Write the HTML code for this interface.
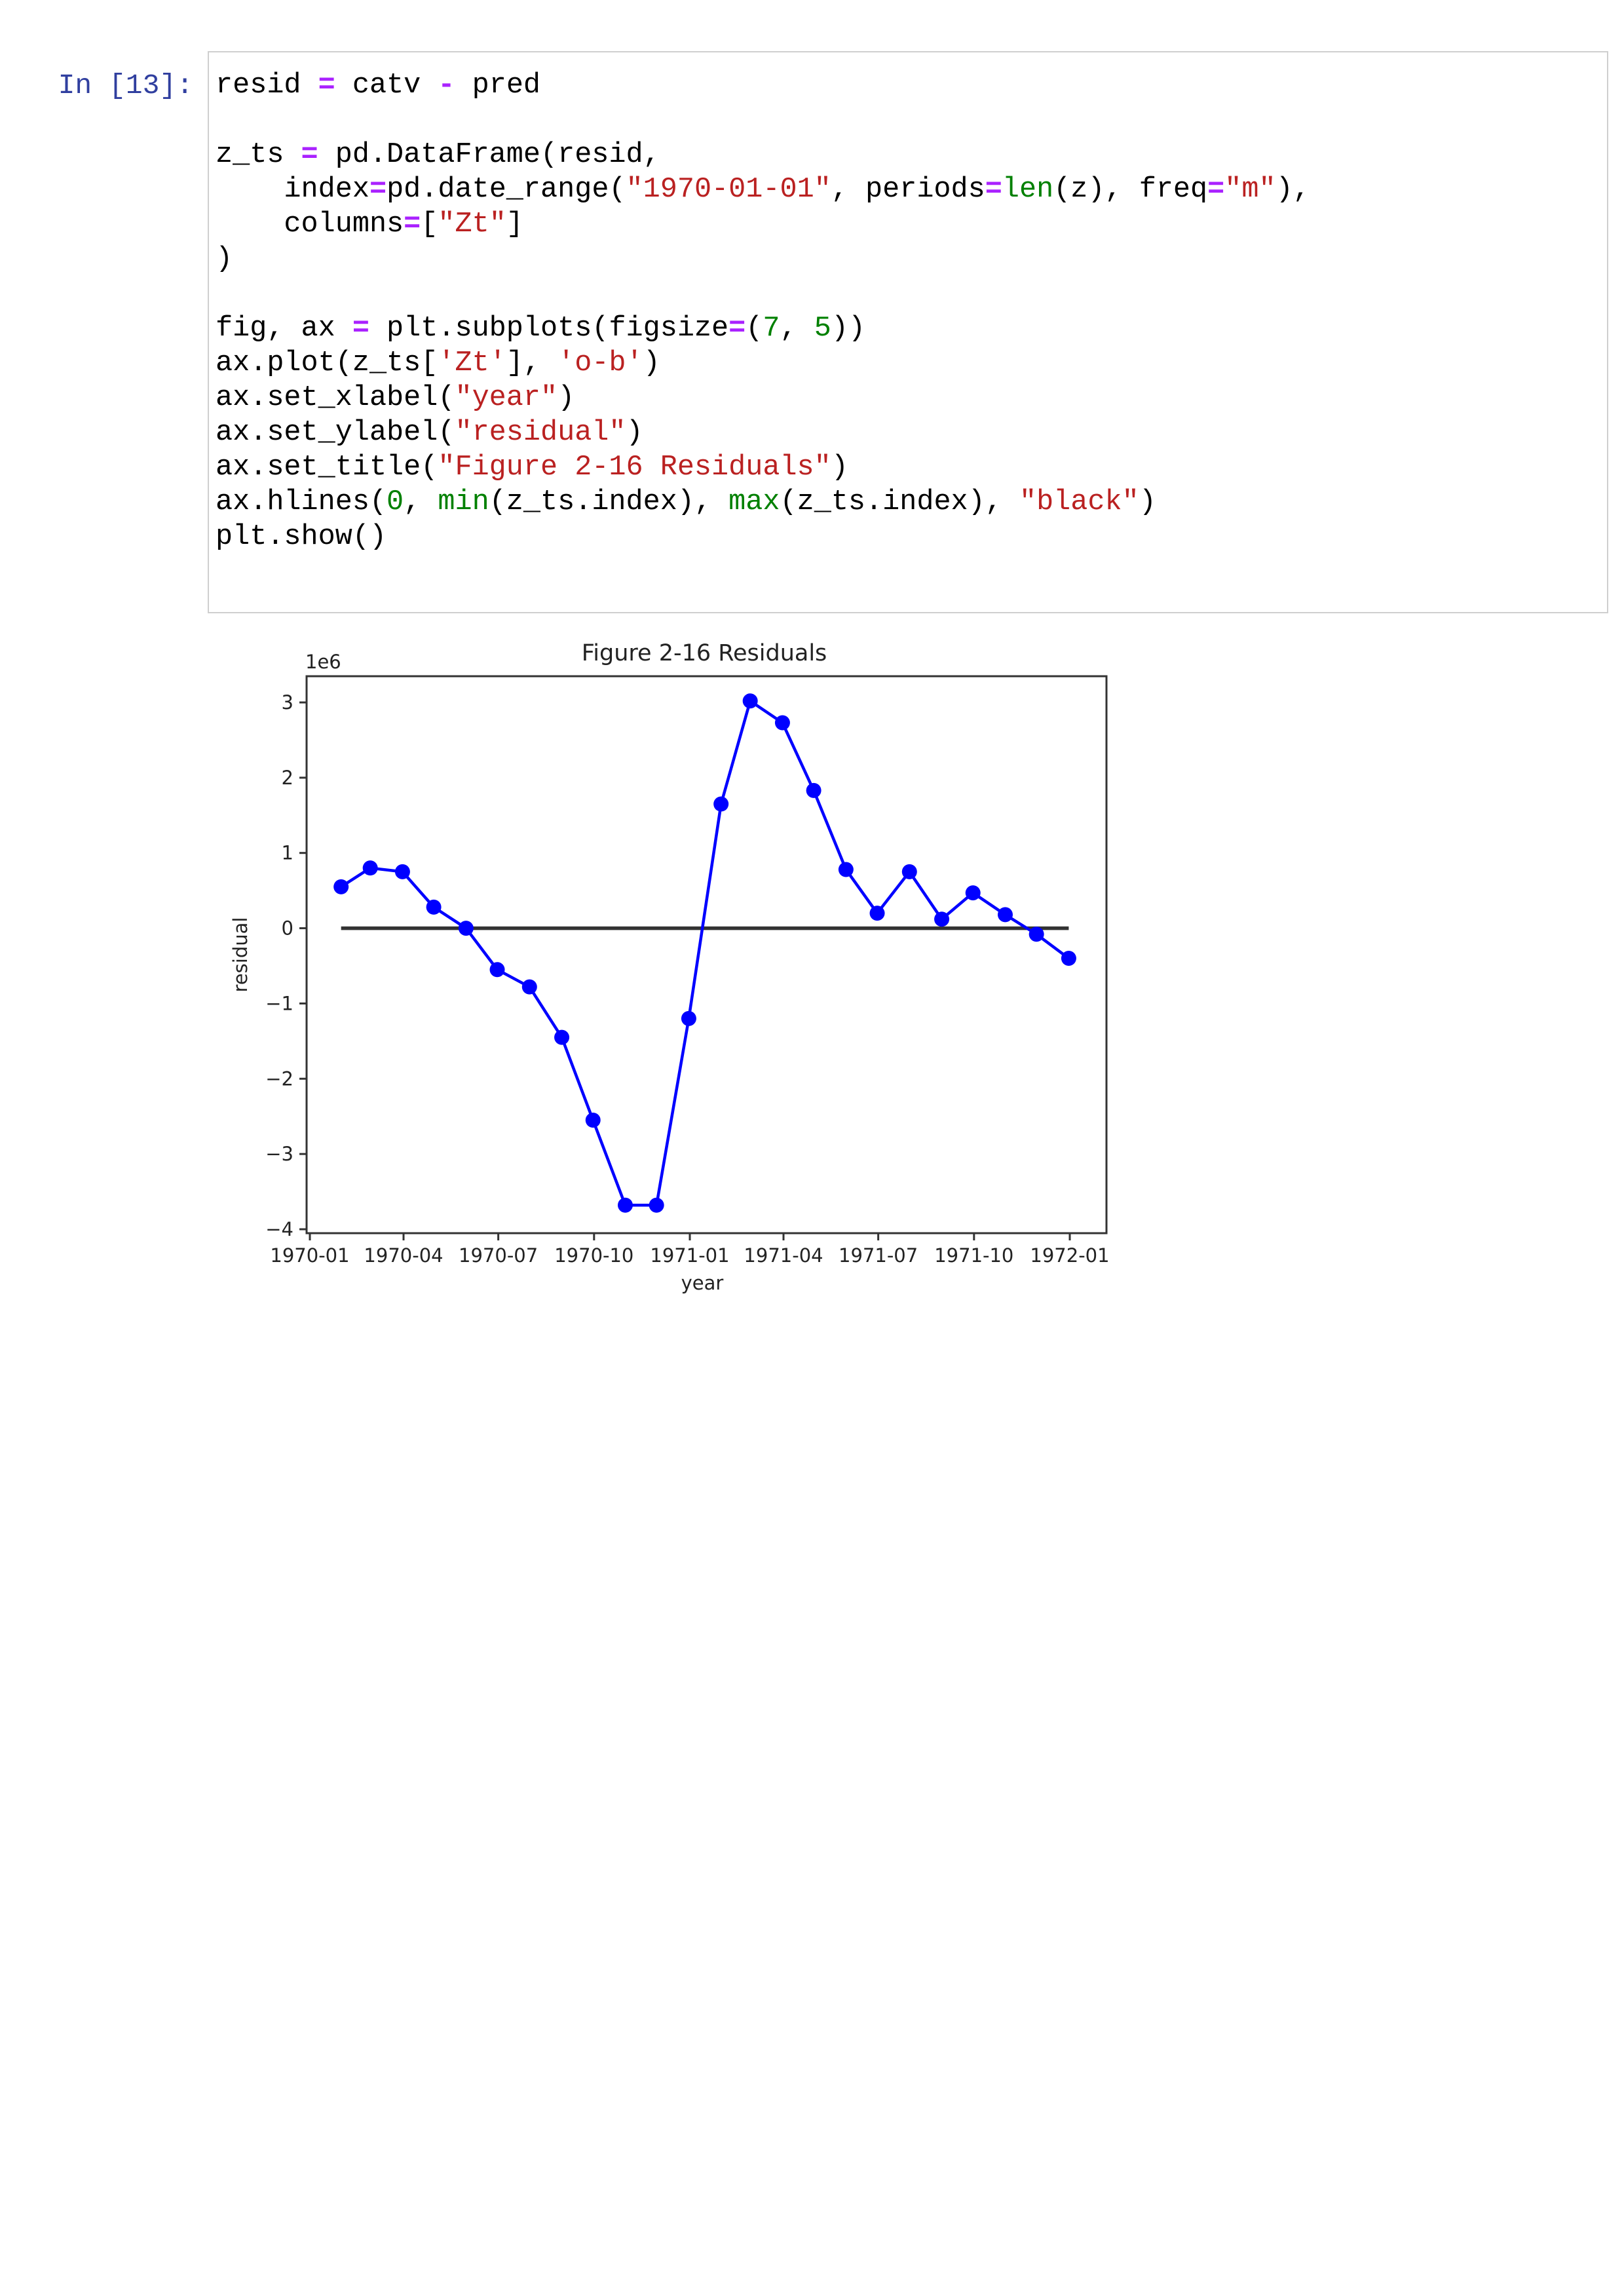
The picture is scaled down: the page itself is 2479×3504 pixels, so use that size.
<!DOCTYPE html>
<html><head><meta charset="utf-8"><style>
html,body{margin:0;padding:0;background:#fff;}
body{width:2479px;height:3504px;position:relative;overflow:hidden;font-family:"Liberation Mono",monospace;}
.prompt{position:absolute;left:60px;top:104px;width:235px;text-align:right;color:#303F9F;font-size:43px;line-height:53px;white-space:pre;}
.cell{position:absolute;left:317px;top:78px;width:2138px;height:858px;border:2px solid #cfcfcf;background:#fff;box-sizing:border-box;}
.ln{position:absolute;left:329px;font-size:43.5px;line-height:53px;white-space:pre;color:#000;}
.o{color:#AA22FF;font-weight:bold}.s{color:#BA2121}.b{color:#008000}.n{color:#008000}
svg{position:absolute;left:0;top:0;}
</style></head><body>
<div class="prompt">In [13]:</div>
<div class="cell"></div>
<div class="ln" style="top:104px">resid <span class="o">=</span> catv <span class="o">-</span> pred</div>
<div class="ln" style="top:210px">z_ts <span class="o">=</span> pd.DataFrame(resid,</div>
<div class="ln" style="top:263px">    index<span class="o">=</span>pd.date_range(<span class="s">"1970-01-01"</span>, periods<span class="o">=</span><span class="b">len</span>(z), freq<span class="o">=</span><span class="s">"m"</span>),</div>
<div class="ln" style="top:316px">    columns<span class="o">=</span>[<span class="s">"Zt"</span>]</div>
<div class="ln" style="top:369px">)</div>
<div class="ln" style="top:475px">fig, ax <span class="o">=</span> plt.subplots(figsize<span class="o">=</span>(<span class="n">7</span>, <span class="n">5</span>))</div>
<div class="ln" style="top:528px">ax.plot(z_ts[<span class="s">'Zt'</span>], <span class="s">'o-b'</span>)</div>
<div class="ln" style="top:581px">ax.set_xlabel(<span class="s">"year"</span>)</div>
<div class="ln" style="top:634px">ax.set_ylabel(<span class="s">"residual"</span>)</div>
<div class="ln" style="top:687px">ax.set_title(<span class="s">"Figure 2-16 Residuals"</span>)</div>
<div class="ln" style="top:740px">ax.hlines(<span class="n">0</span>, <span class="b">min</span>(z_ts.index), <span class="b">max</span>(z_ts.index), <span class="s">"black"</span>)</div>
<div class="ln" style="top:793px">plt.show()</div>

<svg id="chart" width="2479" height="3504" font-family="'DejaVu Sans','Liberation Sans',sans-serif"></svg>
<script>
const dates = ["1970-01-31","1970-02-28","1970-03-31","1970-04-30","1970-05-31","1970-06-30","1970-07-31","1970-08-31","1970-09-30","1970-10-31","1970-11-30","1970-12-31","1971-01-31","1971-02-28","1971-03-31","1971-04-30","1971-05-31","1971-06-30","1971-07-31","1971-08-31","1971-09-30","1971-10-31","1971-11-30","1971-12-31"];
const residuals = [0.55,0.8,0.75,0.28,0.0,-0.55,-0.78,-1.45,-2.55,-3.68,-3.68,-1.2,1.65,3.02,2.73,1.83,0.78,0.2,0.75,0.12,0.47,0.18,-0.08,-0.4];
const xTickLabels = ["1970-01","1970-04","1970-07","1970-10","1971-01","1971-04","1971-07","1971-10","1972-01"];
const yTicks = [3,2,1,0,-1,-2,-3,-4];
const yTickLabels = ["3","2","1","0","\u22121","\u22122","\u22123","\u22124"];
const hlineValue = 0;

const NS="http://www.w3.org/2000/svg";
const svg=document.getElementById('chart');
const AX={l:468,t:1032,r:1689,b:1882};
const t0=Date.UTC(1970,0,1), t1=Date.UTC(1972,0,1);
function xs(d){const t=Date.parse(d+(d.length===7?"-01":"")+"T00:00:00Z");return 473+(t-t0)/(t1-t0)*(1633-473);}
function ys(v){return 1072+(3-v)*(1876-1072)/7;}
function mk(tag,attrs,parent){const e=document.createElementNS(NS,tag);for(const k in attrs)e.setAttribute(k,attrs[k]);(parent||svg).appendChild(e);return e;}

yTicks.forEach((v,i)=>{
  const y=ys(v);
  const tk=mk('line',{x1:AX.l-11,x2:AX.l,y1:y,y2:y,stroke:'#333','stroke-width':3});
  
  
  const tx=mk('text',{x:AX.l-20,y:y+10,'text-anchor':'end','font-size':29,fill:'#222'});
  tx.textContent=yTickLabels[i];
  
  
});
xTickLabels.forEach(lbl=>{
  const x=xs(lbl);
  const tk=mk('line',{x1:x,x2:x,y1:AX.b,y2:AX.b+11,stroke:'#333','stroke-width':3});
  
  
  const tx=mk('text',{x:x,y:1926,'text-anchor':'middle','font-size':29,fill:'#222'});
  tx.textContent=lbl;
  
  
});
const hl=mk('line',{x1:xs(dates[0]),x2:xs(dates[dates.length-1]),y1:ys(hlineValue),y2:ys(hlineValue),stroke:'#333','stroke-width':5.5});


const pts=dates.map((d,i)=>xs(d)+','+ys(residuals[i])).join(' ');
const pl=mk('polyline',{points:pts,fill:'none',stroke:'#0000ff','stroke-width':4.5});


dates.forEach((d,i)=>{
  const c=mk('circle',{cx:xs(d),cy:ys(residuals[i]),r:11.5,fill:'#0000ff'});
  
  
});
const fr=mk('rect',{x:AX.l,y:AX.t,width:AX.r-AX.l,height:AX.b-AX.t,fill:'none',stroke:'#333','stroke-width':3});


const ti=mk('text',{x:1075,y:1008,'text-anchor':'middle','font-size':35,fill:'#222'});
ti.textContent='Figure 2-16 Residuals';


const off=mk('text',{x:466,y:1020,'font-size':29,fill:'#222'});
off.textContent='1e6';


const xl=mk('text',{x:1072,y:1968,'text-anchor':'middle','font-size':29,fill:'#222'});
xl.textContent='year';


const yl=mk('text',{x:0,y:0,'text-anchor':'middle','font-size':29,fill:'#222',transform:'translate(377,1457) rotate(-90)'});
yl.textContent='residual';


</script>
</body></html>
